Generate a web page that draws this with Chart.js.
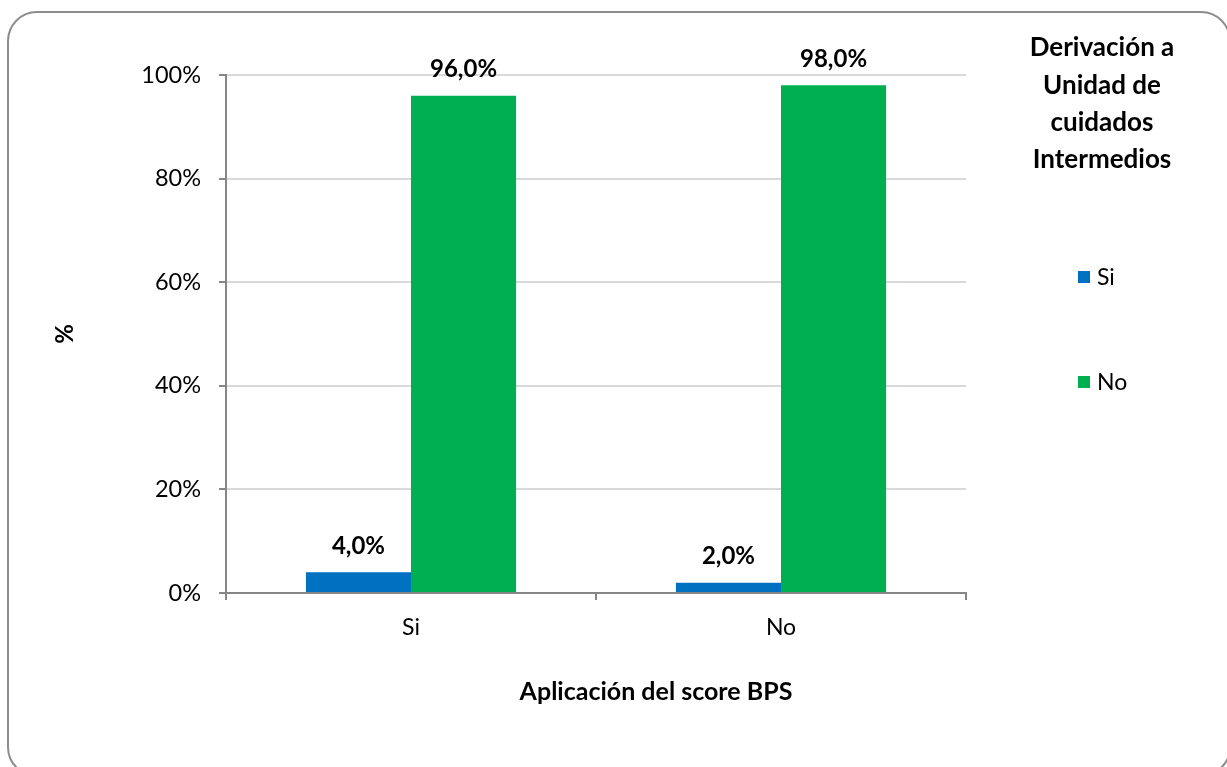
<!DOCTYPE html>
<html>
<head>
<meta charset="utf-8">
<script src="https://cdn.jsdelivr.net/npm/chart.js@4/dist/chart.umd.min.js"></script>
<style>
  html, body { margin: 0; padding: 0; background: #fff; overflow: hidden; }
  #wrap { position: relative; width: 1227px; height: 767px; }
  #frame {
    position: absolute; left: 7px; top: 11px; width: 1220px; height: 762px;
    border: 2px solid #8c8c8c; border-radius: 30px; pointer-events: none;
  }
  canvas { position: absolute; left: 0; top: 0; }
</style>
</head>
<body>
<div id="wrap">
  <canvas id="chart" width="1227" height="767"></canvas>
  <div id="frame"></div>
</div>
<script>
  const categories = ["Si", "No"];
  const seriesNames = ["Si", "No"];
  const derivSi = [4.0, 2.0];
  const derivNo = [96.0, 98.0];
  const colors = ["#0070c0", "#00b050"];
  const legendTitle = ["Derivación a", "Unidad de", "cuidados", "Intermedios"];
  const xTitle = "Aplicación del score BPS";
  const yTitle = "%";

  const font = "Lato";
  const fmt = (v) => v.toFixed(1).replace(".", ",") + "%";

  // value labels above each bar
  const barLabels = {
    id: "barLabels",
    afterDatasetsDraw(chart) {
      const ctx = chart.ctx;
      ctx.save();
      ctx.font = `bold 24px ${font}`;
      ctx.fillStyle = "#000";
      ctx.textAlign = "center";
      ctx.textBaseline = "middle";
      chart.data.datasets.forEach((ds, i) => {
        chart.getDatasetMeta(i).data.forEach((bar, j) => {
          ctx.fillText(fmt(ds.data[j]), bar.x, bar.y - 26);
        });
      });
      ctx.restore();
    },
  };

  // legend with a multi-line title on the right, plus the x axis title
  const sideLegend = {
    id: "sideLegend",
    afterDraw(chart) {
      const ctx = chart.ctx;
      ctx.save();
      ctx.fillStyle = "#000";
      ctx.textAlign = "center";
      ctx.textBaseline = "middle";
      ctx.font = `bold 26px ${font}`;
      legendTitle.forEach((line, i) => ctx.fillText(line, 1102, 48 + i * 37.3));

      ctx.font = `23px ${font}`;
      ctx.textAlign = "left";
      chart.data.datasets.forEach((ds, i) => {
        const y = 277 + i * 105;
        ctx.fillStyle = ds.backgroundColor;
        ctx.fillRect(1078, y - 6, 12, 12);
        ctx.fillStyle = "#000";
        ctx.fillText(ds.label, 1097, y + 1);
      });

      const area = chart.chartArea;
      ctx.font = `bold 25px ${font}`;
      ctx.textAlign = "center";
      ctx.fillText(xTitle, (area.left + area.right) / 2 + 60, 692);
      ctx.restore();
    },
  };

  new Chart(document.getElementById("chart"), {
    type: "bar",
    data: {
      labels: categories,
      datasets: [
        { label: seriesNames[0], data: derivSi, backgroundColor: colors[0] },
        { label: seriesNames[1], data: derivNo, backgroundColor: colors[1] },
      ],
    },
    options: {
      responsive: false,
      animation: false,
      events: [],
      categoryPercentage: 0.568,
      barPercentage: 1.0,
      layout: { padding: { top: 75, right: 261, left: 0, bottom: 0 } },
      plugins: {
        legend: { display: false },
        tooltip: { enabled: false },
      },
      scales: {
        x: {
          afterFit(scale) { scale.height = 174; },
          grid: {
            drawOnChartArea: false,
            drawTicks: true,
            tickLength: 7,
            tickColor: "#868686",
            lineWidth: 2,
          },
          border: { color: "#868686", width: 2 },
          ticks: { color: "#000", padding: 14, font: { family: font, size: 23 } },
        },
        y: {
          min: 0,
          max: 100,
          afterFit(scale) { scale.width = 226; },
          ticks: {
            stepSize: 20,
            color: "#000",
            padding: 18,
            font: { family: font, size: 23.5 },
            callback: (v) => v + "%",
          },
          grid: {
            color: (c) => (c.tick && c.tick.value === 0 ? "rgba(0,0,0,0)" : "#d9d9d9"),
            lineWidth: 2,
            tickLength: 7,
            tickColor: "#868686",
          },
          border: { color: "#868686", width: 2 },
          title: {
            display: true,
            text: yTitle,
            color: "#000",
            font: { family: font, size: 24, weight: "bold" },
            padding: { top: 51, bottom: 0 },
          },
        },
      },
    },
    plugins: [barLabels, sideLegend],
  });
</script>
</body>
</html>
